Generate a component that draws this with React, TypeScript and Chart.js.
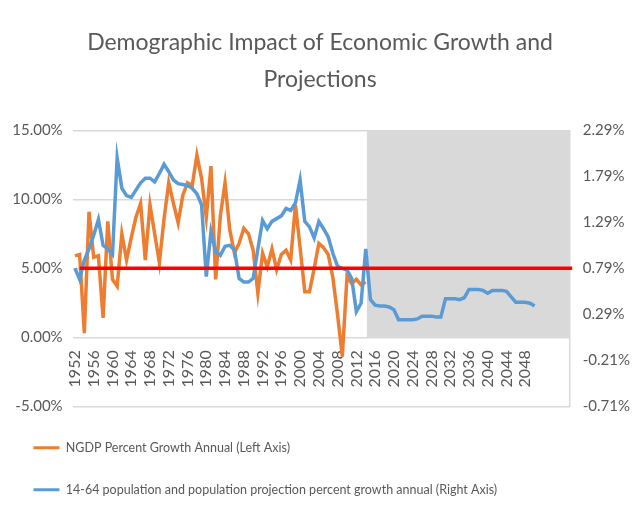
import React, { useEffect, useRef } from 'react';
import { Chart, registerables } from 'chart.js';

Chart.register(...registerables);

const TITLE_LINES = ['Demographic Impact of Economic Growth and', 'Projections'];

// NGDP percent growth annual (left axis), 1952-2014
const NGDP_START_YEAR = 1952;
const ngdpValues = [
  5.9, 6.0, 0.3, 9.1, 5.8, 5.9, 1.4, 8.4, 4.2, 3.7,
  7.5, 5.6, 7.2, 8.7, 9.7, 5.6, 9.6, 7.5, 5.4, 8.6,
  11.2, 9.7, 8.3, 10.3, 11.2, 11.0, 13.2, 11.5, 8.7, 12.4,
  4.2, 8.8, 11.2, 7.8, 6.1, 6.8, 7.9, 7.5, 6.3, 3.2,
  6.1, 5.1, 6.4, 4.9, 6.0, 6.3, 5.6, 9.6, 6.5, 3.3,
  3.3, 5.0, 6.8, 6.5, 6.0, 4.3, 1.6, -1.4, 4.4, 3.9,
  4.2, 3.8, 4.0,
];

// 14-64 population and projection percent growth annual (right axis), 1952-2050
const POP_START_YEAR = 1952;
const popValues = [
  0.79, 0.67, 0.88, 1.0, 1.15, 1.32, 1.04, 1.0, 0.94, 1.99,
  1.66, 1.58, 1.56, 1.64, 1.72, 1.77, 1.77, 1.73, 1.82, 1.92,
  1.84, 1.75, 1.71, 1.70, 1.69, 1.66, 1.60, 1.48, 0.70, 1.19,
  0.97, 0.93, 1.03, 1.04, 0.99, 0.68, 0.64, 0.64, 0.68, 1.0,
  1.31, 1.22, 1.30, 1.33, 1.36, 1.44, 1.42, 1.50, 1.75, 1.30,
  1.24, 1.12, 1.30, 1.22, 1.13, 0.95, 0.81, 0.79, 0.77, 0.68,
  0.32, 0.41, 1.0,
  0.45, 0.39, 0.38, 0.38, 0.37, 0.34, 0.23, 0.23, 0.23, 0.23,
  0.24, 0.27, 0.27, 0.27, 0.26, 0.26, 0.46, 0.46, 0.46, 0.45,
  0.47, 0.56, 0.56, 0.56, 0.55, 0.52, 0.55, 0.55, 0.55, 0.54,
  0.48, 0.42, 0.42, 0.42, 0.41, 0.38,
];

// red reference line at 5% (left axis)
const refLineYears = [1953, 2058];
const refLineValue = 5;

// shaded projection period (left axis 0..15%)
const projectionYears = [2014.2, 2057.5];
const projectionTop = 15;

const xTickYears = [
  1952, 1956, 1960, 1964, 1968, 1972, 1976, 1980, 1984, 1988, 1992, 1996, 2000,
  2004, 2008, 2012, 2016, 2020, 2024, 2028, 2032, 2036, 2040, 2044, 2048,
];
const leftTicks = [-5, 0, 5, 10, 15];
const rightTicks = [-0.71, -0.21, 0.29, 0.79, 1.29, 1.79, 2.29];

const legendLabels = [
  'NGDP Percent Growth Annual (Left Axis)',
  '14-64 population and population projection percent growth annual (Right Axis)',
];

const ORANGE = '#ed7d31';
const BLUE = '#5b9bd5';
const RED = '#ff0000';
const GRAY_FILL = '#d9d9d9';
const TEXT = '#595959';
const GRID = '#d9d9d9';
const FONT = "Lato, 'Open Sans', sans-serif";

export default function App() {
  const ref = useRef<HTMLCanvasElement | null>(null);

  useEffect(() => {
    if (!ref.current) return;
    const ngdpData = ngdpValues.map((v, i) => ({ x: NGDP_START_YEAR + i, y: v }));
    const popData = popValues.map((v, i) => ({ x: POP_START_YEAR + i, y: v }));
    const refData = refLineYears.map((x) => ({ x, y: refLineValue }));
    const projData = projectionYears.map((x) => ({ x, y: projectionTop }));

    const chart = new Chart(ref.current, {
      type: 'line',
      data: {
        datasets: [
          {
            label: 'ref',
            data: refData,
            xAxisID: 'x',
            yAxisID: 'y',
            borderColor: RED,
            borderWidth: 3.5,
            pointRadius: 0,
            fill: false,
            order: 0,
            clip: 4,
          } as any,
          {
            label: legendLabels[1],
            data: popData,
            xAxisID: 'x',
            yAxisID: 'y1',
            borderColor: BLUE,
            backgroundColor: BLUE,
            borderWidth: 3.5,
            pointRadius: 0,
            tension: 0,
            fill: false,
            order: 1,
          },
          {
            label: legendLabels[0],
            data: ngdpData,
            xAxisID: 'x',
            yAxisID: 'y',
            borderColor: ORANGE,
            backgroundColor: ORANGE,
            borderWidth: 3.5,
            pointRadius: 0,
            tension: 0,
            fill: false,
            order: 2,
          },
          {
            label: 'projection',
            data: projData,
            xAxisID: 'x',
            yAxisID: 'y',
            borderWidth: 0,
            borderColor: GRAY_FILL,
            backgroundColor: GRAY_FILL,
            pointRadius: 0,
            fill: 'origin',
            order: 3,
          },
        ],
      },
      options: {
        animation: false,
        responsive: false,
        devicePixelRatio: 1,
        layout: { padding: { left: 4, right: 4, top: 0, bottom: 0 } },
        plugins: {
          title: {
            display: true,
            text: TITLE_LINES,
            color: TEXT,
            font: { family: FONT, size: 23, weight: 'normal', lineHeight: 1.6 },
            padding: { top: 24, bottom: 32.7 },
          },
          legend: {
            position: 'bottom',
            align: 'start',
            labels: {
              boxWidth: 26,
              boxHeight: 3,
              padding: 29.5,
              color: TEXT,
              font: { family: FONT, size: 12.5 },
              generateLabels: () => [
                { text: legendLabels[0], fillStyle: ORANGE, strokeStyle: ORANGE, lineWidth: 0, hidden: false, datasetIndex: 2, fontColor: TEXT },
                { text: legendLabels[1], fillStyle: BLUE, strokeStyle: BLUE, lineWidth: 0, hidden: false, datasetIndex: 1, fontColor: TEXT },
              ] as any,
            },
          },
          tooltip: { enabled: false },
        },
        scales: {
          x: {
            type: 'linear',
            min: 1951.5,
            max: 2057.5,
            position: { y: 0 } as any,
            grid: { display: false, drawTicks: false },
            border: { display: false },
            afterBuildTicks: (s: any) => {
              s.ticks = xTickYears.map((v) => ({ value: v }));
            },
            ticks: {
              autoSkip: false,
              minRotation: 90,
              maxRotation: 90,
              padding: 13,
              color: TEXT,
              font: { family: FONT, size: 16 },
              callback: (v: any) => String(v),
            },
          },
          gap: {
            type: 'linear',
            axis: 'x',
            position: 'bottom',
            display: true,
            grid: { display: false, drawTicks: false },
            border: { display: false },
            ticks: { display: false },
            afterFit: (s: any) => {
              s.height = 5.7;
            },
          } as any,
          y: {
            type: 'linear',
            position: 'left',
            min: -5,
            max: 15,
            afterBuildTicks: (s: any) => {
              s.ticks = leftTicks.map((v) => ({ value: v }));
            },
            grid: { color: GRID, lineWidth: 1.5, drawTicks: false },
            border: { display: false },
            ticks: {
              padding: 10,
              color: TEXT,
              font: { family: FONT, size: 15 },
              callback: (v: any) => Number(v).toFixed(2) + '%',
            },
            afterFit: (s: any) => {
              s.width = 68.6;
            },
          },
          y1: {
            type: 'linear',
            position: 'right',
            min: -0.71,
            max: 2.29,
            afterBuildTicks: (s: any) => {
              s.ticks = rightTicks.map((v) => ({ value: v }));
            },
            grid: { display: false, drawTicks: false },
            border: { display: true, color: GRID, width: 1.5 },
            ticks: {
              padding: 13,
              color: TEXT,
              font: { family: FONT, size: 15 },
              callback: (v: any) => Number(v).toFixed(2) + '%',
            },
            afterFit: (s: any) => {
              s.width = 66.2;
            },
          },
        },
      },
    });
    return () => chart.destroy();
  }, []);

  return (
    <div style={{ position: 'fixed', left: 0, top: 0, width: 640, height: 506, background: '#fff' }}>
      <canvas ref={ref} width={640} height={506} style={{ display: 'block', width: 640, height: 506 }} />
    </div>
  );
}
